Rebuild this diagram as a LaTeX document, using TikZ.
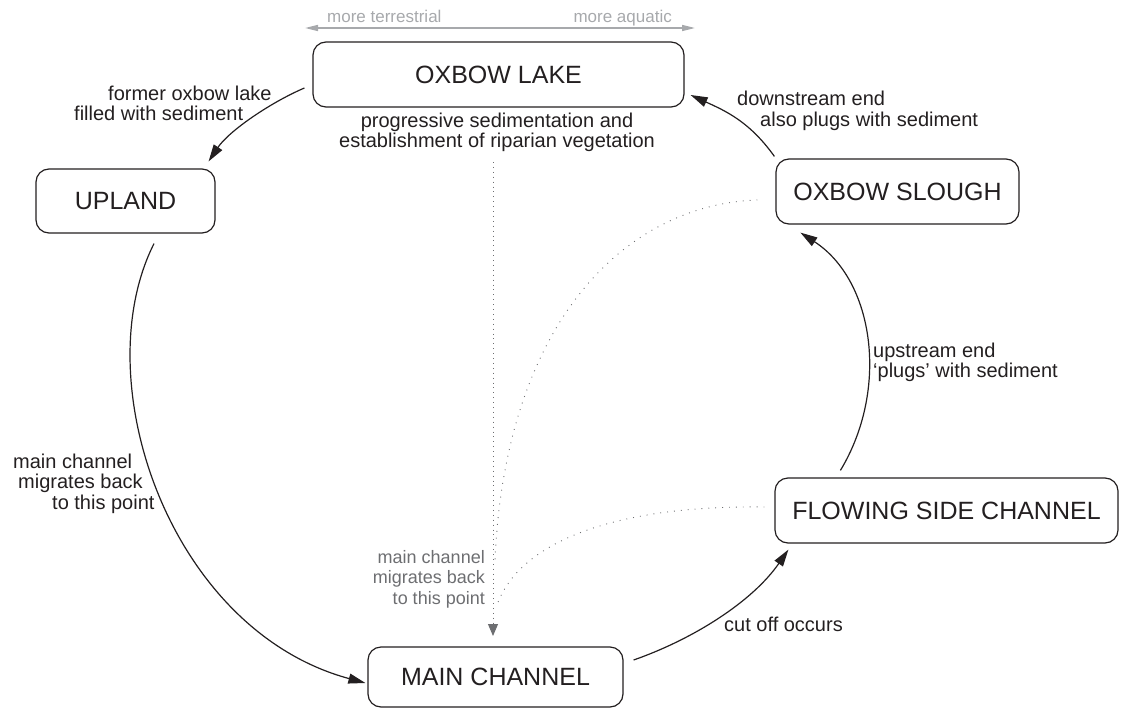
\documentclass[tikz,border=0pt]{standalone}
\usepackage{fontspec}
\setmainfont{Liberation Sans}
\usetikzlibrary{arrows.meta}
\definecolor{ink}{HTML}{231F20}
\definecolor{midgray}{HTML}{6D6E71}
\definecolor{palegray}{HTML}{A7A9AC}

\begin{document}
\begin{tikzpicture}[x=1pt,y=-1pt,
  state/.style={draw=ink,line width=1.2pt,rounded corners=13pt,inner sep=0pt,text=ink,font=\fontsize{25}{25}\selectfont},
  lbl/.style={inner sep=0pt,text=ink,font=\fontsize{20}{20.5}\selectfont},
  glbl/.style={inner sep=0pt,text=midgray,font=\fontsize{18}{20.5}\selectfont},
  flow/.style={draw=ink,line width=1.2pt,-{Triangle[length=17pt,width=10pt]}},
  trace/.style={draw=midgray,line width=0.9pt,dash pattern=on 0.9pt off 6pt}]
\useasboundingbox (0,0) rectangle (1124,709);
\node[state,minimum width=371pt,minimum height=65pt] (lake) at (498.5,74.5) {OXBOW LAKE};
\node[state,minimum width=179pt,minimum height=64pt] (upland) at (125.5,201) {UPLAND};
\node[state,minimum width=243pt,minimum height=65pt] (slough) at (897.5,191.5) {OXBOW SLOUGH};
\node[state,minimum width=343pt,minimum height=65pt] (side) at (946.5,510.5) {FLOWING SIDE CHANNEL};
\node[state,minimum width=255pt,minimum height=60pt] (main) at (495.5,677) {MAIN CHANNEL};
\node[lbl,align=center,anchor=north] (veglbl) at (497,112.5) {progressive sedimentation and\\establishment of riparian vegetation};
\node[lbl,align=left,anchor=north west] (filllbl) at (74,85.5) {\hspace*{34pt}former oxbow lake\\filled with sediment};
\node[lbl,align=left,anchor=north west] (downlbl) at (737,91) {downstream end\\\hspace*{23pt}also plugs with sediment};
\node[lbl,align=left,anchor=north west] (uplbl) at (873,342.5) {upstream end\\`plugs' with sediment};
\node[lbl,align=left,anchor=north west] (backlbl) at (13,453.5) {main channel\\\hspace*{5pt}migrates back\\\hspace*{39pt}to this point};
\node[glbl,align=right,anchor=north east] (backgray) at (485,550) {main channel\\migrates back\\to this point};
\node[lbl,anchor=base west] (cutlbl) at (724,631) {cut off occurs};
\node[glbl,text=palegray,font=\fontsize{17}{20}\selectfont,anchor=base west] (terr) at (327,23) {more terrestrial};
\node[glbl,text=palegray,font=\fontsize{17}{20}\selectfont,anchor=base east] (aqua) at (672,23) {more aquatic};
\coordinate (terrend) at (305,28);
\coordinate (aquaend) at (695,28);
\draw[palegray,line width=1.5pt,{Triangle[length=13pt,width=6pt]}-{Triangle[length=13pt,width=6pt]}] (terrend) -- (aquaend);
\draw[flow] ([shift={(-8,13.5)}]lake.west) .. controls +(-35,15) and +(20,-30) .. ([shift={(-7,-7)}]upland.north east);
\draw[flow] ([shift={(28.5,10)}]upland.south) .. controls +(-69,137) and +(-196,-53) .. ([shift={(-2,6)}]main.west);
\draw[flow] ([shift={(10,-17)}]main.east) .. controls +(60,-21) and +(-36,52) .. ([shift={(14,6)}]side.south west);
\draw[flow] ([shift={(66,-7)}]side.north west) .. controls +(49,-81) and +(74,48) .. ([shift={(25,8)}]slough.south west);
\draw[flow] ([shift={(-1,-2)}]slough.north west) .. controls +(-25,-35) and +(35,16) .. ([shift={(6,20.5)}]lake.east);
\coordinate (vegtop) at (493,162);
\coordinate (vegtip) at (493,636);
\draw[trace,dash pattern=on 0.9pt off 4pt,-{Triangle[length=12pt,width=10pt]}] (vegtop) -- (vegtip);
\coordinate (sloughend) at (495,560);
\coordinate (sideend) at (497,605);
\draw[trace] ([shift={(-18,8.5)}]slough.west) .. controls +(-138,5) and +(10,-230) .. (sloughend);
\draw[trace] ([shift={(-10,-3.5)}]side.west) .. controls +(-145,-2) and +(23,-65) .. (sideend);
\end{tikzpicture}
\end{document}
